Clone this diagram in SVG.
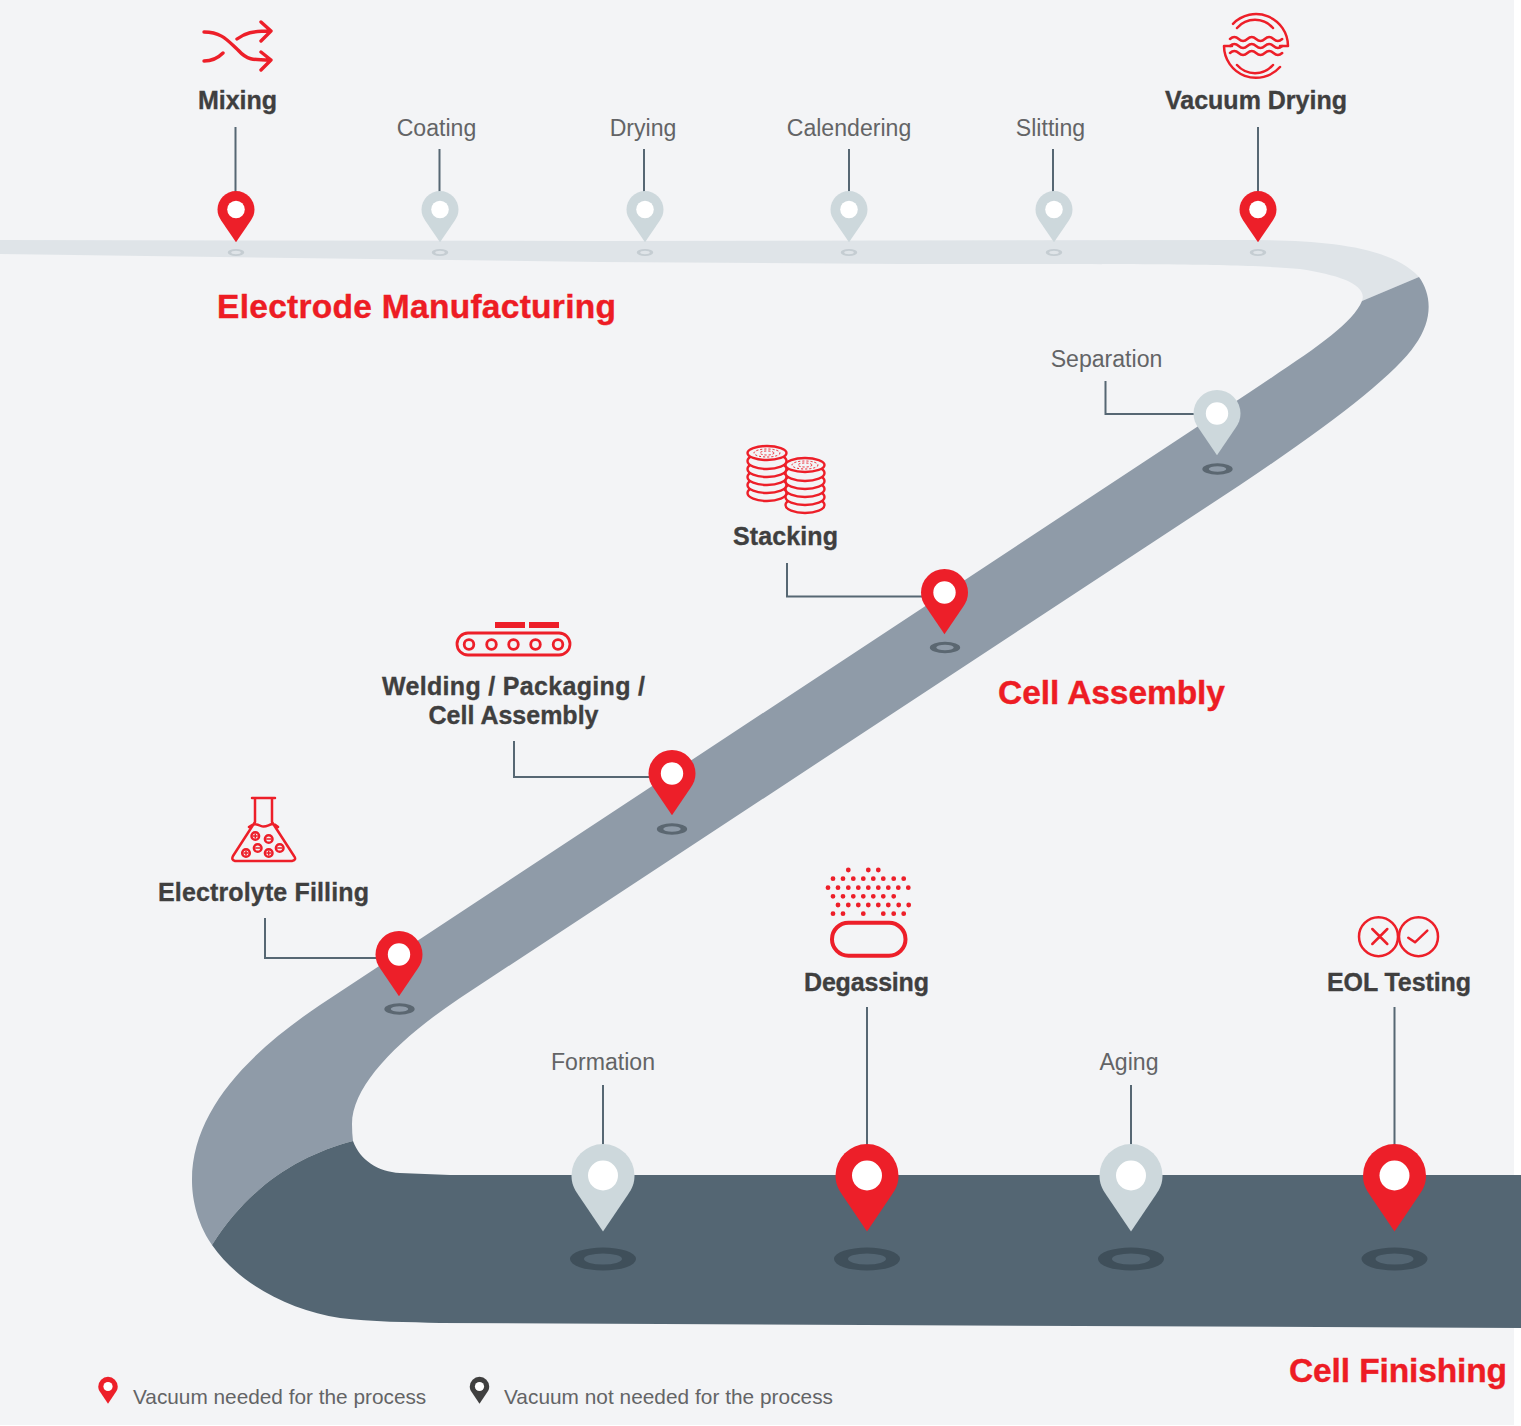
<svg xmlns="http://www.w3.org/2000/svg" width="1521" height="1426" viewBox="0 0 1521 1426">
<style>
text{font-family:"Liberation Sans",Arial,sans-serif}
.b{font-weight:700;font-size:25px;fill:#3f3f3f;stroke:#3f3f3f;stroke-width:.35px;text-anchor:middle}
.r{font-size:23.1px;fill:#636466;text-anchor:middle}
.h{font-weight:700;font-size:33.5px;fill:#ed1c24;stroke:#ed1c24;stroke-width:.4px}
.l{font-size:20.8px;fill:#636466}
.red{fill:#ed1f29}
.pale{fill:#cdd8dc}
.dk{fill:#3f3f3f}
.hole{fill:#fff}
.ic{fill:none;stroke:#ed1f29;stroke-width:2.5px;stroke-linecap:round;stroke-linejoin:round}
.disc{fill:#f3f4f6;stroke:#ed1f29;stroke-width:2.4px}
.c{fill:none;stroke:#566773;stroke-width:2}
</style>
<defs>
<g id="pin"><path d="M0,56 L-25,19 C-29,13 -31.500,8 -31.500,0 A31.500,31.500 0 0 1 31.500,0 C31.500,8 29,13 25,19 Z"/><circle class="hole" r="15"/></g>
<path id="ring" fill-rule="evenodd" d="M-33,0 A33,11.500 0 1 1 33,0 A33,11.500 0 1 1 -33,0 Z M-19,0 A19,5.500 0 1 0 19,0 A19,5.500 0 1 0 -19,0 Z"/>
</defs>
<rect width="1514" height="1425" fill="#f3f4f6"/>
<g id="road">
<path fill="#dfe4e8" d="M0,240 L600,241 L1240,240 C1320,240 1390,245 1419,277 L1362,301 C1368,285 1340,275 1300,269 C1250,264 1150,264 900,264 L600,262 L0,254 Z"/>
<path fill="#8f9ba8" d="M1419,277 C1432,295 1433,320 1415,345 C1395,375 1330,425 1240,485 L460,998 C400,1038 352,1085 352,1124 Q352,1133 353,1141 C300,1155 250,1185 212,1245 C195,1220 192,1195 192,1180 C192,1110 250,1052 320,1005 L1250,392 C1310,352 1352,325 1362,301 Z"/>
<path fill="#546673" d="M353,1141 C360,1160 378,1172 400,1173 L450,1175 L1521,1175 L1521,1328 L440,1323 C410,1322 370,1322 340,1318 C290,1310 240,1285 212,1245 C250,1185 300,1155 353,1141 Z"/>
</g>
<g id="connectors">
<path class="c" d="M235.500,127V192M439.500,149V192M644,149V192M849,149V192M1053,149V192M1258,127V192"/>
<path class="c" d="M1105.500,381V414H1196M787,563V596.500H922M514,741V777H650M265,918V958H377"/>
<path class="c" d="M603,1085V1146M867,1007V1146M1131,1085V1146M1394.500,1007V1146"/>
</g>
<g id="mixing">
<path class="ic" style="stroke-width:3.400px" d="M204,32C222,32 228,41 238,50C247,60 252,60 271,60M261,52L271,60L261,70M204,61C212,61 218,58 223,53M237,39C245,33 252,31 271,31M261,22L271,31L261,41"/>
<text class="b" x="237.500" y="108.500" textLength="79">Mixing</text>
<use href="#ring" transform="translate(236,252.500) scale(.25,.3)" fill="#c5cdd2"/>
<use href="#pin" class="red" transform="translate(236,209.500) scale(.587)"/>
</g>
<g id="coating"><text class="r" x="436.500" y="136">Coating</text>
<use href="#ring" transform="translate(440,252.500) scale(.25,.3)" fill="#c5cdd2"/>
<use href="#pin" class="pale" transform="translate(440,209.500) scale(.587)"/></g>
<g id="drying"><text class="r" x="643" y="136">Drying</text>
<use href="#ring" transform="translate(645,252.500) scale(.25,.3)" fill="#c5cdd2"/>
<use href="#pin" class="pale" transform="translate(645,209.500) scale(.587)"/></g>
<g id="calendering"><text class="r" x="849" y="136">Calendering</text>
<use href="#ring" transform="translate(849,252.500) scale(.25,.3)" fill="#c5cdd2"/>
<use href="#pin" class="pale" transform="translate(849,209.500) scale(.587)"/></g>
<g id="slitting"><text class="r" x="1050.500" y="136">Slitting</text>
<use href="#ring" transform="translate(1054,252.500) scale(.25,.3)" fill="#c5cdd2"/>
<use href="#pin" class="pale" transform="translate(1054,209.500) scale(.587)"/></g>
<g id="vacuum-drying">
<path class="ic" d="M1233,23.800A32,32 0 0 1 1288,46H1280M1224,46H1232M1224,46A32,32 0 0 0 1280,67M1237,28A24,24 0 0 1 1273,28M1237,65A24,24 0 0 0 1273,65"/>
<path class="ic" d="M1230,39q4.300,-4 8.700,0t8.700,0t8.700,0t8.700,0t8.700,0t8.700,0M1230,46q4.300,-4 8.700,0t8.700,0t8.700,0t8.700,0t8.700,0t8.700,0M1230,53q4.300,-4 8.700,0t8.700,0t8.700,0t8.700,0t8.700,0t8.700,0"/>
<text class="b" x="1256" y="108.500" textLength="182">Vacuum Drying</text>
<use href="#ring" transform="translate(1258,252.500) scale(.25,.3)" fill="#c5cdd2"/>
<use href="#pin" class="red" transform="translate(1258,209.500) scale(.587)"/>
</g>
<text class="h" x="217" y="317.500" textLength="399">Electrode Manufacturing</text>
<g id="separation"><text class="r" x="1106.500" y="367">Separation</text>
<use href="#ring" transform="translate(1217.500,469) scale(.46,.5)" fill="#5b6771"/>
<use href="#pin" class="pale" transform="translate(1217,413.500) scale(.746)"/></g>
<g id="stacking">
<ellipse class="disc" cx="767" cy="493" rx="19.500" ry="8"/><ellipse class="disc" cx="767" cy="485" rx="19.500" ry="8"/><ellipse class="disc" cx="767" cy="477" rx="19.500" ry="8"/><ellipse class="disc" cx="767" cy="469" rx="19.500" ry="8"/><ellipse class="disc" cx="767" cy="461" rx="19.500" ry="8"/><ellipse class="disc" cx="767" cy="453" rx="19.500" ry="7"/>
<ellipse class="disc" cx="805" cy="505" rx="19.500" ry="8"/><ellipse class="disc" cx="805" cy="497" rx="19.500" ry="8"/><ellipse class="disc" cx="805" cy="489" rx="19.500" ry="8"/><ellipse class="disc" cx="805" cy="481" rx="19.500" ry="8"/><ellipse class="disc" cx="805" cy="473" rx="19.500" ry="8"/><ellipse class="disc" cx="805" cy="465" rx="19.500" ry="7"/>
<g fill="none" stroke="#ed1f29" stroke-width="1" stroke-dasharray="2 2"><ellipse cx="767" cy="453" rx="13" ry="4"/><ellipse cx="767" cy="453" rx="7" ry="2"/><ellipse cx="805" cy="465" rx="13" ry="4"/><ellipse cx="805" cy="465" rx="7" ry="2"/></g>
<text class="b" x="785.500" y="544.500" textLength="105">Stacking</text>
<use href="#ring" transform="translate(945,647.500) scale(.46,.5)" fill="#5b6771"/>
<use href="#pin" class="red" transform="translate(944.500,592.500) scale(.746)"/>
</g>
<g id="welding">
<rect x="495" y="622" width="30" height="6" fill="#ed1f29"/><rect x="529" y="622" width="30" height="6" fill="#ed1f29"/>
<g class="ic" style="stroke-width:2.800px"><rect x="457" y="633" width="113" height="22" rx="11"/><circle cx="469" cy="644.500" r="4.800"/><circle cx="491.500" cy="644.500" r="4.800"/><circle cx="513.500" cy="644.500" r="4.800"/><circle cx="535.500" cy="644.500" r="4.800"/><circle cx="558" cy="644.500" r="4.800"/></g>
<text class="b" x="513.500" y="694.500" textLength="263">Welding / Packaging /</text><text class="b" x="513.500" y="723.500" textLength="170">Cell Assembly</text>
<use href="#ring" transform="translate(672,829) scale(.46,.5)" fill="#5b6771"/>
<use href="#pin" class="red" transform="translate(672,773.500) scale(.746)"/>
</g>
<text class="h" x="998" y="703.500" textLength="227">Cell Assembly</text>
<g id="electrolyte-filling">
<g class="ic"><path d="M252,798H275M255,798V822L233,856Q231,860 235,861H292Q297,860 294,856L272,822V798M249,827C254,823 257,824 261,826C265,828 268,825 272,824C274,824 276,825 278,827"/>
<circle cx="255.300" cy="836" r="3.800"/><circle cx="268.700" cy="839" r="3.800"/><circle cx="257.700" cy="848" r="3.800"/><circle cx="279.700" cy="848" r="3.800"/><circle cx="246" cy="853" r="3.800"/><circle cx="268.700" cy="853" r="3.800"/></g>
<path stroke="#ed1f29" stroke-width="1.500" d="M252.800,836h5M255.300,833.500v5M266.200,839h5M255.200,848h5M277.200,848h5M243.500,853h5M246,850.500v5M266.200,853h5M268.700,850.500v5"/>
<text class="b" x="263.500" y="900.500" textLength="211">Electrolyte Filling</text>
<use href="#ring" transform="translate(399.500,1009) scale(.46,.5)" fill="#5b6771"/>
<use href="#pin" class="red" transform="translate(399,954.500) scale(.746)"/>
</g>
<g id="formation"><text class="r" x="603" y="1070">Formation</text>
<use href="#ring" transform="translate(603,1259)" fill="#3f4f5a"/>
<use href="#pin" class="pale" transform="translate(603,1175.500)"/></g>
<g id="degassing">
<path fill="none" stroke="#ed1f29" stroke-width="4.800" stroke-linecap="round" d="M848.300,870h0M868.300,870h0M878.300,870h0M833,878.700h0M843,878.700h0M853.300,878.700h0M863.300,878.700h0M873.300,878.700h0M883.300,878.700h0M893.700,878.700h0M903.700,878.700h0M828,887.700h0M838,887.700h0M848.300,887.700h0M858.300,887.700h0M868.300,887.700h0M878.300,887.700h0M888.300,887.700h0M898.300,887.700h0M908.300,887.700h0M833,896.300h0M843,896.300h0M853.300,896.300h0M863.300,896.300h0M873.300,896.300h0M883.300,896.300h0M893.700,896.300h0M838,905h0M848.300,905h0M858.300,905h0M868.300,905h0M878.300,905h0M888.300,905h0M898.700,905h0M908.700,905h0M833,913.700h0M843,913.700h0M863.300,913.700h0M883.300,913.700h0M893.700,913.700h0M903.700,913.700h0"/>
<rect x="832" y="922.700" width="73.500" height="33" rx="16.500" fill="none" stroke="#ed1f29" stroke-width="4"/>
<text class="b" x="866.500" y="990.500" textLength="125">Degassing</text>
<use href="#ring" transform="translate(867,1259)" fill="#3f4f5a"/>
<use href="#pin" class="red" transform="translate(867,1175.500)"/>
</g>
<g id="aging"><text class="r" x="1129" y="1070">Aging</text>
<use href="#ring" transform="translate(1131,1259)" fill="#3f4f5a"/>
<use href="#pin" class="pale" transform="translate(1131,1175.500)"/></g>
<g id="eol-testing">
<g class="ic"><circle cx="1378.500" cy="936.700" r="19.500"/><circle cx="1418.500" cy="936.700" r="19.500"/><path d="M1372.300,929L1387.300,944M1387.300,929L1372.300,944M1408.300,937.700L1415,942.300L1427.300,930.700"/></g>
<text class="b" x="1399" y="990.500" textLength="144">EOL Testing</text>
<use href="#ring" transform="translate(1394.500,1259)" fill="#3f4f5a"/>
<use href="#pin" class="red" transform="translate(1394.500,1175.500)"/>
</g>
<text class="h" x="1289" y="1381.500" textLength="218">Cell Finishing</text>
<g id="legend">
<use href="#pin" class="red" transform="translate(108,1386.500) scale(.308)"/>
<text class="l" x="133" y="1404">Vacuum needed for the process</text>
<use href="#pin" class="dk" transform="translate(479.500,1386.500) scale(.308)"/>
<text class="l" x="504" y="1404" textLength="329">Vacuum not needed for the process</text>
</g>
</svg>
